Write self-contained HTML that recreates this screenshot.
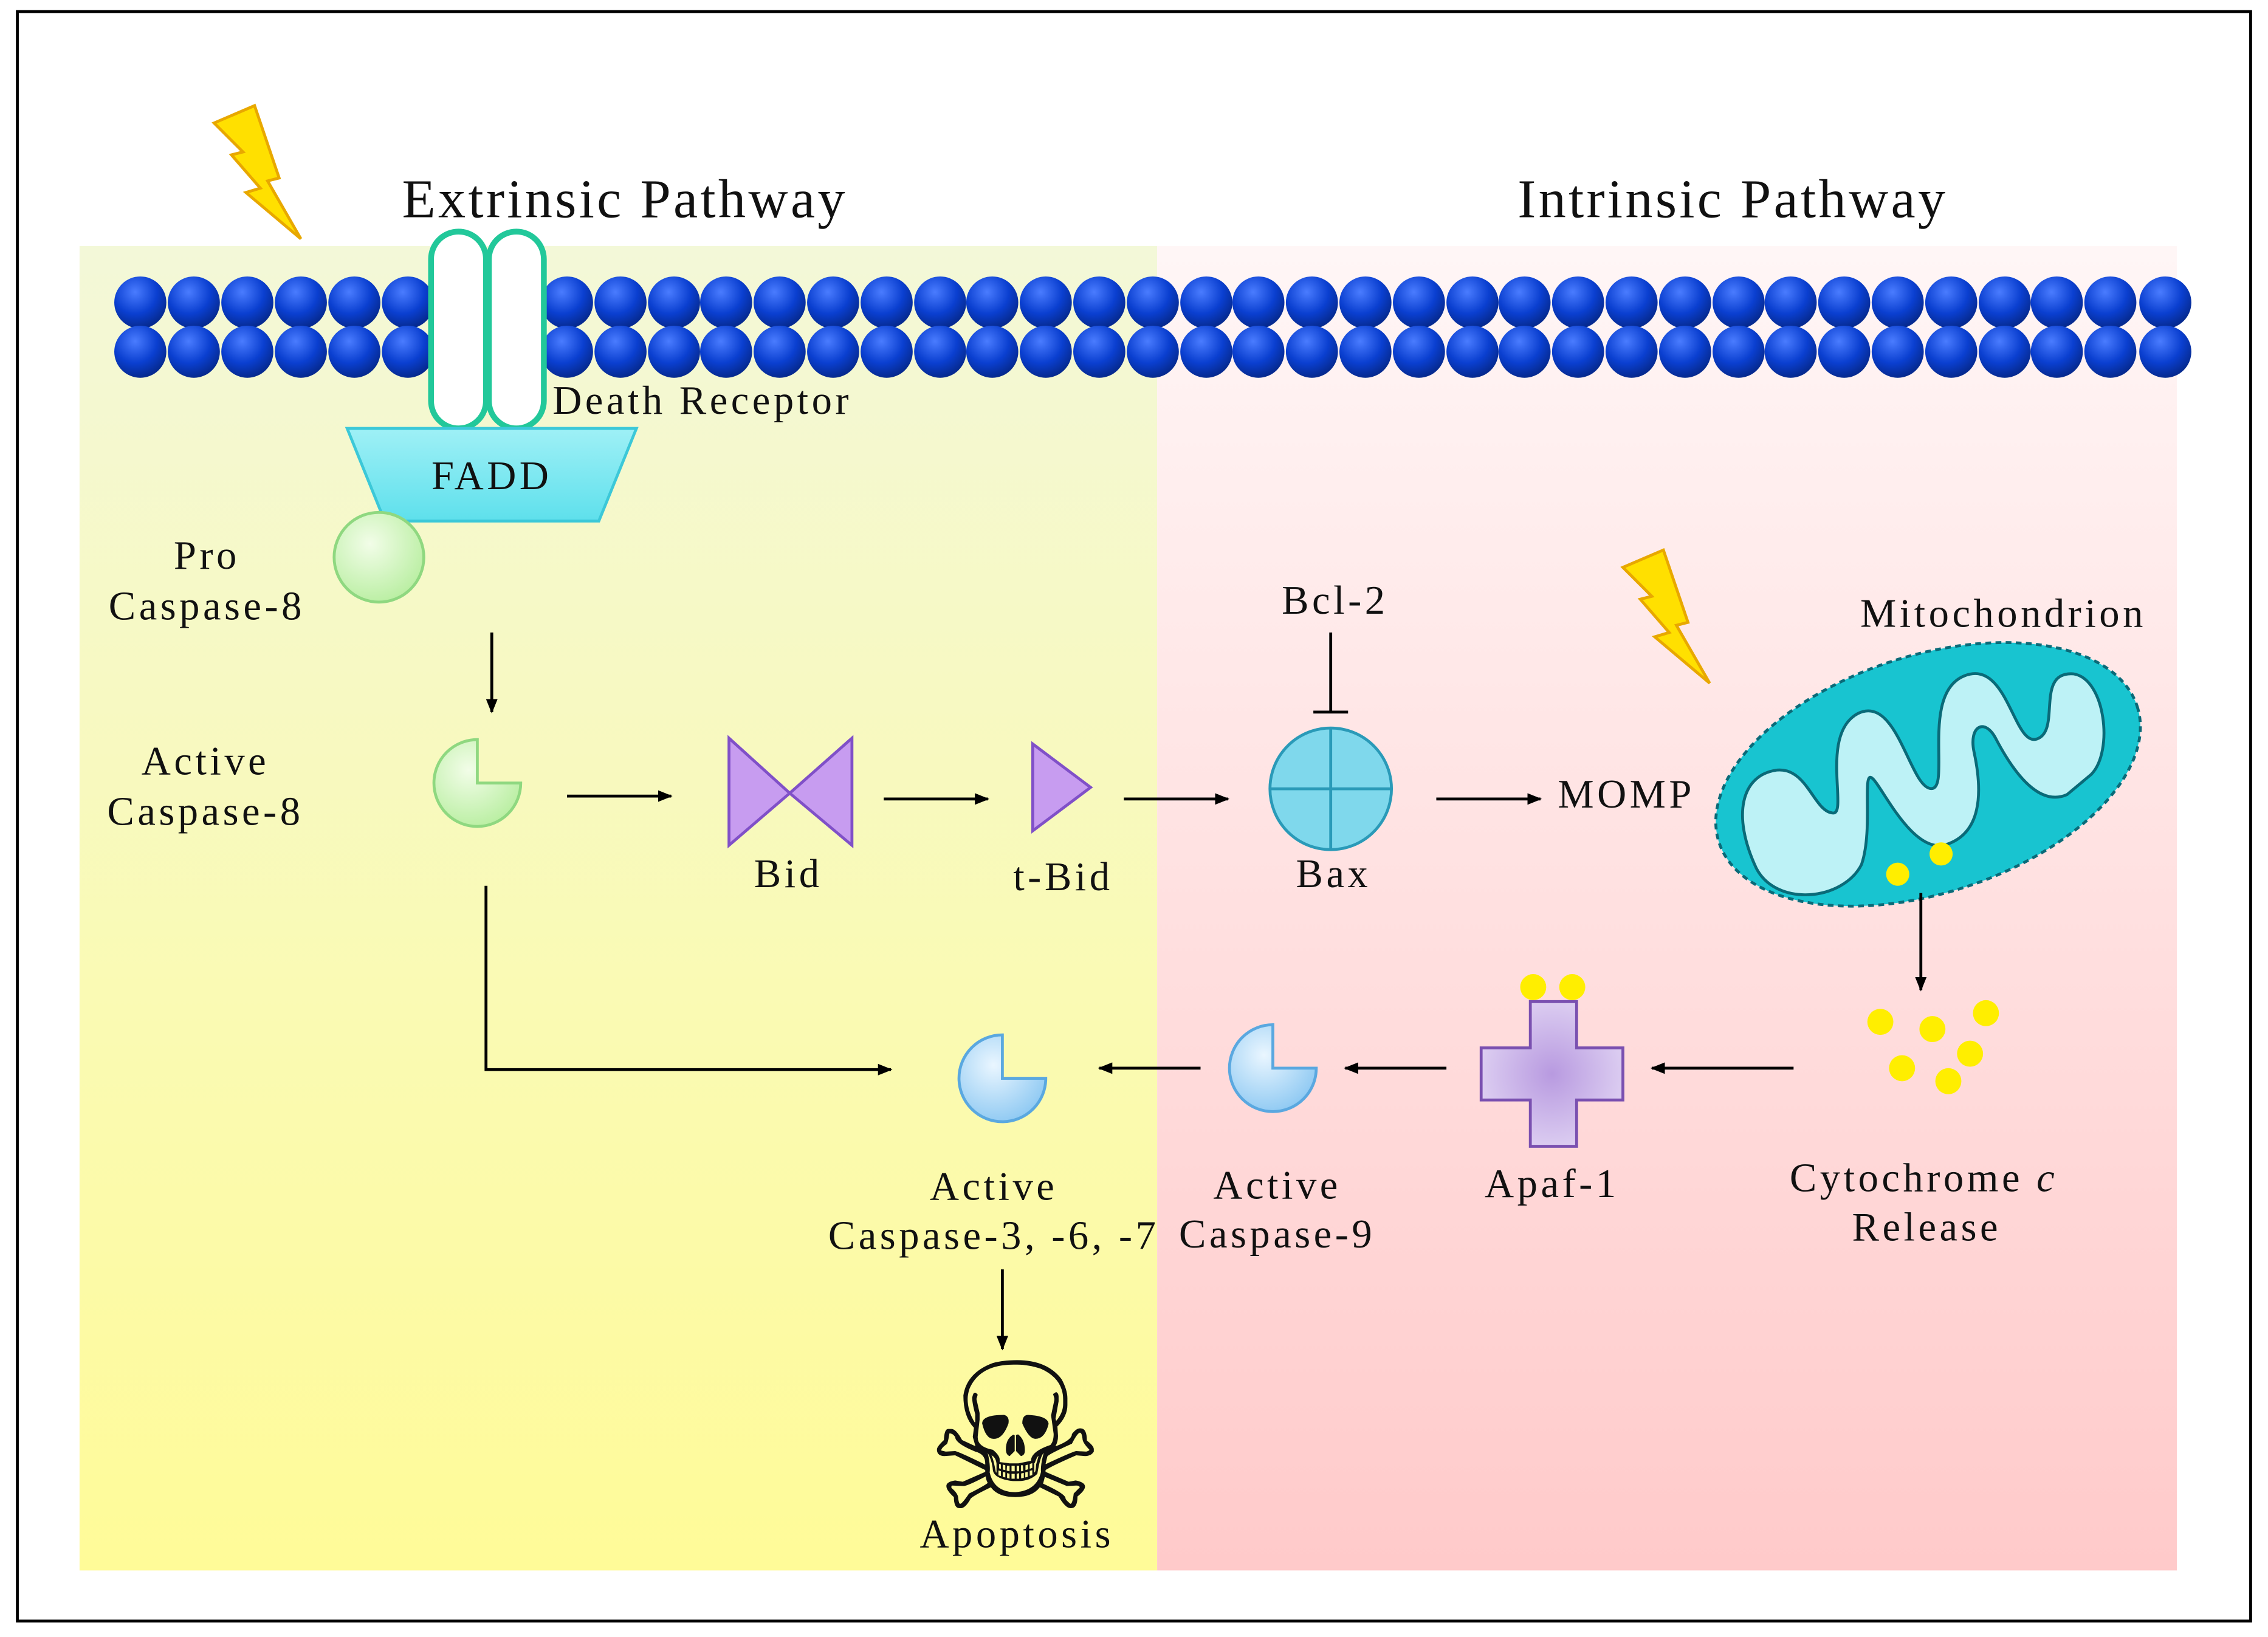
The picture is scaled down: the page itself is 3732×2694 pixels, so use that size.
<!DOCTYPE html>
<html><head><meta charset="utf-8"><style>
html,body{margin:0;padding:0;background:#fff;}
svg{display:block;}
text{font-family:"Liberation Serif","DejaVu Serif",serif;fill:#111;font-size:28px;letter-spacing:2.3px;}
text.t{font-size:38px;letter-spacing:1.8px;}
</style></head><body>
<svg width="3732" height="2694" viewBox="0 0 1568 1131" preserveAspectRatio="none" xmlns="http://www.w3.org/2000/svg">
<defs>
<linearGradient id="yel" x1="0" y1="0" x2="0" y2="1"><stop offset="0" stop-color="#f3f8d8"/><stop offset="1" stop-color="#fffb98"/></linearGradient>
<linearGradient id="pnk" x1="0" y1="0" x2="0" y2="1"><stop offset="0" stop-color="#fff6f6"/><stop offset="1" stop-color="#ffcaca"/></linearGradient>
<radialGradient id="ball" cx="0.4" cy="0.3" r="0.7"><stop offset="0" stop-color="#4a7cff"/><stop offset="0.6" stop-color="#0a3fd0"/><stop offset="1" stop-color="#062a90"/></radialGradient>
<radialGradient id="grn" cx="0.4" cy="0.35" r="0.7"><stop offset="0" stop-color="#f2fde8"/><stop offset="1" stop-color="#b8eea0"/></radialGradient>
<radialGradient id="blu" cx="0.4" cy="0.35" r="0.7"><stop offset="0" stop-color="#eaf6ff"/><stop offset="1" stop-color="#8cc8f2"/></radialGradient>
<radialGradient id="apaf" cx="0.5" cy="0.5" r="0.6"><stop offset="0" stop-color="#b89ae0"/><stop offset="1" stop-color="#e2d6f4"/></radialGradient>
<linearGradient id="fadd" x1="0" y1="0" x2="0" y2="1"><stop offset="0" stop-color="#9ff0f6"/><stop offset="1" stop-color="#5ee0ec"/></linearGradient>
<marker id="ar" markerWidth="10" markerHeight="8" refX="9" refY="4" orient="auto" markerUnits="userSpaceOnUse"><path d="M0,0 L10,4 L0,8 Z" fill="#000"/></marker>
<g id="bolt"><path d="M0,0 L28,-12 L45,38 L37,40 L60,80 L22,48 L32,45 L12,22 L20,20 Z" fill="#ffe000" stroke="#e8a800" stroke-width="2"/></g>
</defs>
<rect x="12" y="8" width="1544" height="1112" fill="#fff" stroke="#000" stroke-width="2"/>
<rect x="55" y="170" width="745" height="915" fill="url(#yel)"/>
<rect x="800" y="170" width="705" height="915" fill="url(#pnk)"/>
<text class="t" x="432" y="150" text-anchor="middle">Extrinsic Pathway</text>
<text class="t" x="1198" y="150" text-anchor="middle">Intrinsic Pathway</text>
<g fill="url(#ball)">
<circle cx="97" cy="209" r="18"/><circle cx="134" cy="209" r="18"/><circle cx="171" cy="209" r="18"/><circle cx="208" cy="209" r="18"/><circle cx="245" cy="209" r="18"/><circle cx="282" cy="209" r="18"/><circle cx="392" cy="209" r="18"/><circle cx="429" cy="209" r="18"/><circle cx="466" cy="209" r="18"/><circle cx="502" cy="209" r="18"/><circle cx="539" cy="209" r="18"/><circle cx="576" cy="209" r="18"/><circle cx="613" cy="209" r="18"/><circle cx="650" cy="209" r="18"/><circle cx="686" cy="209" r="18"/><circle cx="723" cy="209" r="18"/><circle cx="760" cy="209" r="18"/><circle cx="797" cy="209" r="18"/><circle cx="834" cy="209" r="18"/><circle cx="870" cy="209" r="18"/><circle cx="907" cy="209" r="18"/><circle cx="944" cy="209" r="18"/><circle cx="981" cy="209" r="18"/><circle cx="1018" cy="209" r="18"/><circle cx="1054" cy="209" r="18"/><circle cx="1091" cy="209" r="18"/><circle cx="1128" cy="209" r="18"/><circle cx="1165" cy="209" r="18"/><circle cx="1202" cy="209" r="18"/><circle cx="1238" cy="209" r="18"/><circle cx="1275" cy="209" r="18"/><circle cx="1312" cy="209" r="18"/><circle cx="1349" cy="209" r="18"/><circle cx="1386" cy="209" r="18"/><circle cx="1422" cy="209" r="18"/><circle cx="1459" cy="209" r="18"/><circle cx="1497" cy="209" r="18"/>
<circle cx="97" cy="243" r="18"/><circle cx="134" cy="243" r="18"/><circle cx="171" cy="243" r="18"/><circle cx="208" cy="243" r="18"/><circle cx="245" cy="243" r="18"/><circle cx="282" cy="243" r="18"/><circle cx="392" cy="243" r="18"/><circle cx="429" cy="243" r="18"/><circle cx="466" cy="243" r="18"/><circle cx="502" cy="243" r="18"/><circle cx="539" cy="243" r="18"/><circle cx="576" cy="243" r="18"/><circle cx="613" cy="243" r="18"/><circle cx="650" cy="243" r="18"/><circle cx="686" cy="243" r="18"/><circle cx="723" cy="243" r="18"/><circle cx="760" cy="243" r="18"/><circle cx="797" cy="243" r="18"/><circle cx="834" cy="243" r="18"/><circle cx="870" cy="243" r="18"/><circle cx="907" cy="243" r="18"/><circle cx="944" cy="243" r="18"/><circle cx="981" cy="243" r="18"/><circle cx="1018" cy="243" r="18"/><circle cx="1054" cy="243" r="18"/><circle cx="1091" cy="243" r="18"/><circle cx="1128" cy="243" r="18"/><circle cx="1165" cy="243" r="18"/><circle cx="1202" cy="243" r="18"/><circle cx="1238" cy="243" r="18"/><circle cx="1275" cy="243" r="18"/><circle cx="1312" cy="243" r="18"/><circle cx="1349" cy="243" r="18"/><circle cx="1386" cy="243" r="18"/><circle cx="1422" cy="243" r="18"/><circle cx="1459" cy="243" r="18"/><circle cx="1497" cy="243" r="18"/>
</g>
<rect x="298" y="160" width="38" height="136" rx="19" fill="#fff" stroke="#22c89a" stroke-width="4"/>
<rect x="338" y="160" width="38" height="136" rx="19" fill="#fff" stroke="#22c89a" stroke-width="4"/>
<text x="382" y="286">Death Receptor</text>
<polygon points="240,296 440,296 414,360 266,360" fill="url(#fadd)" stroke="#3cc8d8" stroke-width="2"/>
<text x="340" y="338" text-anchor="middle">FADD</text>
<circle cx="262" cy="385" r="31" fill="url(#grn)" stroke="#8fd880" stroke-width="2"/>
<text x="143" y="393" text-anchor="middle">Pro</text>
<text x="143" y="428" text-anchor="middle">Caspase-8</text>
<use href="#bolt" transform="translate(148,85)"/>
<use href="#bolt" transform="translate(1122,392)"/>
<path d="M330,541 L360,541 A30,30 0 1 1 330,511 Z" fill="url(#grn)" stroke="#8fd880" stroke-width="2"/>
<text x="142" y="535" text-anchor="middle">Active</text>
<text x="142" y="570" text-anchor="middle">Caspase-8</text>
<line x1="340" y1="437" x2="340" y2="492" stroke="#000" stroke-width="2" marker-end="url(#ar)"/>
<line x1="392" y1="550" x2="464" y2="550" stroke="#000" stroke-width="2" marker-end="url(#ar)"/>
<polygon points="504,510 546,548 589,510 589,584 546,548 504,584" fill="#c79cf0" stroke="#8050c8" stroke-width="2"/>
<text x="545" y="613" text-anchor="middle">Bid</text>
<line x1="611" y1="552" x2="683" y2="552" stroke="#000" stroke-width="2" marker-end="url(#ar)"/>
<polygon points="714,514 754,544 714,574" fill="#c79cf0" stroke="#8050c8" stroke-width="2"/>
<text x="735" y="615" text-anchor="middle">t-Bid</text>
<line x1="777" y1="552" x2="849" y2="552" stroke="#000" stroke-width="2" marker-end="url(#ar)"/>
<circle cx="920" cy="545" r="42" fill="#7fd8ec" stroke="#2a9ab8" stroke-width="2"/>
<line x1="878" y1="545" x2="962" y2="545" stroke="#2a9ab8" stroke-width="2"/>
<line x1="920" y1="503" x2="920" y2="587" stroke="#2a9ab8" stroke-width="2"/>
<text x="922" y="613" text-anchor="middle">Bax</text>
<text x="923" y="424" text-anchor="middle">Bcl-2</text>
<line x1="920" y1="437" x2="920" y2="492" stroke="#000" stroke-width="2"/>
<line x1="908" y1="492" x2="932" y2="492" stroke="#000" stroke-width="2"/>
<line x1="993" y1="552" x2="1065" y2="552" stroke="#000" stroke-width="2" marker-end="url(#ar)"/>
<text x="1077" y="558">MOMP</text>
<text x="1385" y="433" text-anchor="middle">Mitochondrion</text>
<g transform="rotate(-18 1333 535)">
<ellipse cx="1333" cy="535" rx="152" ry="82" fill="#18c4d0" stroke="#0a6a78" stroke-width="2" stroke-dasharray="4,3"/>
<path d="M1200,560 C1195,520 1210,495 1235,500 C1255,505 1250,535 1262,540 C1272,545 1270,485 1300,480 C1330,476 1318,540 1332,545 C1345,550 1345,480 1378,478 C1410,476 1395,535 1412,535 C1430,535 1425,490 1450,500 C1470,510 1460,560 1440,570 L1420,578 C1400,580 1390,555 1385,525 C1382,510 1370,512 1368,530 C1365,560 1355,585 1330,585 C1305,585 1300,530 1295,525 C1290,520 1285,560 1270,580 C1250,600 1205,590 1200,560 Z" fill="#bdf2f6" stroke="#0a6a78" stroke-width="2"/>
</g>
<circle cx="1312" cy="604" r="8" fill="#ffee00"/>
<circle cx="1342" cy="590" r="8" fill="#ffee00"/>
<line x1="1328" y1="617" x2="1328" y2="684" stroke="#000" stroke-width="2" marker-end="url(#ar)"/>
<g fill="#ffee00"><circle cx="1300" cy="706" r="9"/><circle cx="1336" cy="711" r="9"/><circle cx="1373" cy="700" r="9"/><circle cx="1362" cy="728" r="9"/><circle cx="1315" cy="738" r="9"/><circle cx="1347" cy="747" r="9"/></g>
<text x="1330" y="823" text-anchor="middle">Cytochrome <tspan font-style="italic">c</tspan></text>
<text x="1332" y="857" text-anchor="middle">Release</text>
<line x1="1240" y1="738" x2="1142" y2="738" stroke="#000" stroke-width="2" marker-end="url(#ar)"/>
<path d="M1058,692 L1090,692 L1090,724 L1122,724 L1122,760 L1090,760 L1090,792 L1058,792 L1058,760 L1024,760 L1024,724 L1058,724 Z" fill="url(#apaf)" stroke="#7a50b0" stroke-width="2"/>
<circle cx="1060" cy="682" r="9" fill="#ffee00"/><circle cx="1087" cy="682" r="9" fill="#ffee00"/>
<text x="1073" y="827" text-anchor="middle">Apaf-1</text>
<line x1="1000" y1="738" x2="930" y2="738" stroke="#000" stroke-width="2" marker-end="url(#ar)"/>
<path d="M880,738 L910,738 A30,30 0 1 1 880,708 Z" fill="url(#blu)" stroke="#5aa8e0" stroke-width="2"/>
<text x="883" y="828" text-anchor="middle">Active</text>
<text x="883" y="862" text-anchor="middle">Caspase-9</text>
<line x1="830" y1="738" x2="760" y2="738" stroke="#000" stroke-width="2" marker-end="url(#ar)"/>
<path d="M693,745 L723,745 A30,30 0 1 1 693,715 Z" fill="url(#blu)" stroke="#5aa8e0" stroke-width="2"/>
<text x="687" y="829" text-anchor="middle">Active</text>
<text x="687" y="863" text-anchor="middle">Caspase-3, -6, -7</text>
<polyline points="336,612 336,739 616,739" fill="none" stroke="#000" stroke-width="2" marker-end="url(#ar)"/>
<line x1="693" y1="877" x2="693" y2="932" stroke="#000" stroke-width="2" marker-end="url(#ar)"/>
<text x="702" y="1042" text-anchor="middle" style="font-family:'DejaVu Sans',sans-serif;font-size:140px;letter-spacing:0">☠</text>
<text x="703" y="1069" text-anchor="middle">Apoptosis</text>
</svg>
</body></html>
